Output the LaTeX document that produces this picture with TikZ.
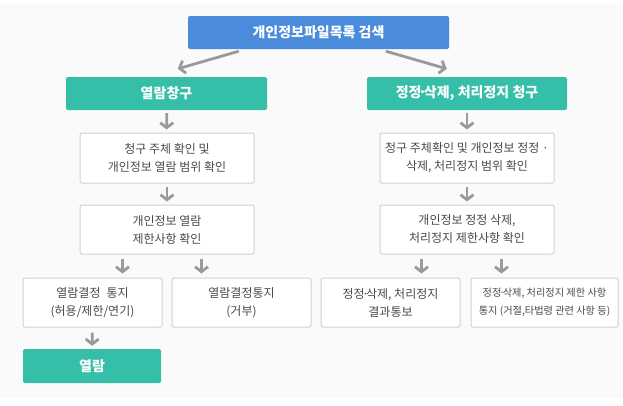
\documentclass[tikz,border=0pt]{standalone}
\usepackage{fontspec}
\setmainfont{Noto Sans CJK KR}
\usepackage{tikz}
\usetikzlibrary{calc,arrows.meta,positioning}
\definecolor{searchblue}{HTML}{4A8BDB}
\definecolor{reqgreen}{HTML}{35BFA8}
\definecolor{arrgray}{HTML}{9A9A9A}
\definecolor{boxline}{HTML}{D2D2D2}
\definecolor{txtgray}{HTML}{4A4A4A}
\definecolor{panel}{HTML}{FAFAFA}
\newcommand{\mdot}{\kern-0.22em·\kern-0.22em}
\tikzset{
  headbox/.style = {rounded corners=2pt, text=white, font=\fontsize{14}{16}\selectfont\bfseries, inner sep=0pt},
  infobox/.style = {draw=boxline, line width=1pt, fill=white, rounded corners=2pt, text=txtgray, align=center,
                    font=\fontsize{12}{18}\selectfont, inner sep=0pt},
  arr/.style = {draw=arrgray, line width=2.8pt, -{Straight Barb[length=5pt,width=13pt]}}
}

\begin{document}
\begin{tikzpicture}[x=1pt,y=1pt]
    \useasboundingbox (0,0) rectangle (623,-405);
    \fill[panel] (0,-4) rectangle (623,-398);
    % top
    \node[headbox, fill=searchblue, minimum width=261, minimum height=33] (search) at (318.5,-32.5) {개인정보파일목록 검색};
    \node[headbox, fill=reqgreen, minimum width=201, minimum height=33] (reqL) at (166.5,-93.5) {열람창구};
    \node[headbox, fill=reqgreen, minimum width=200, minimum height=33] (reqR) at (467,-93.5) {정정\mdot 삭제, 처리정지 청구};
    % left column
    \node[infobox, minimum width=174, minimum height=50] (chkL1) at (167,-158) {청구 주체 확인 및\\개인정보 열람 범위 확인};
    \node[infobox, minimum width=174, minimum height=49] (chkL2) at (167,-229.5) {개인정보 열람\\제한사항 확인};
    \node[infobox, minimum width=139, minimum height=49] (resA) at (92.5,-302.5) {열람결정\enspace 통지\\(허용/제한/연기)};
    \node[infobox, minimum width=139, minimum height=49] (resB) at (241.5,-302.5) {열람결정통지\\(거부)};
    \node[headbox, fill=reqgreen, minimum width=138, minimum height=34] (view) at (92,-366) {열람};
    % right column
    \node[infobox, minimum width=174, minimum height=50] (chkR1) at (467,-158) {청구 주체확인 및 개인정보 정정 ·\\삭제, 처리정지 범위 확인};
    \node[infobox, minimum width=174, minimum height=49] (chkR2) at (467,-229.5) {개인정보 정정 삭제,\\처리정지 제한사항 확인};
    \node[infobox, minimum width=139, minimum height=49] (resC) at (390.5,-302.5) {정정\mdot 삭제, 처리정지\\결과통보};
    \node[infobox, minimum width=147, minimum height=49, font=\fontsize{10.2}{18}\selectfont] (resD) at (544.5,-302.5) {정정\mdot 삭제, 처리정지 제한 사항\\통지 (거절,타법령 관련 사항 등)};
    % connectors
    \draw[arr] ($(search.south west)+(51,-2)$) -- ($(reqL.north west)+(112,8)$);
    \draw[arr] ($(search.south west)+(198,-2)$) -- ($(reqR.north west)+(80,8)$);
    \draw[arr, shorten <=3pt, shorten >=3pt] (reqL) -- (chkL1);
    \draw[arr, shorten <=3pt, shorten >=3pt] (chkL1) -- (chkL2);
    \draw[arr, shorten <=3pt, shorten >=3pt] (reqR) -- (chkR1);
    \draw[arr, shorten <=3pt, shorten >=3pt] (chkR1) -- (chkR2);
    \draw[arr] ($(chkL2.south west)+(43,-4)$) -- ($(chkL2.south west)+(43,-19)$);
    \draw[arr] ($(chkL2.south west)+(122,-4)$) -- ($(chkL2.south west)+(122,-19)$);
    \draw[arr] ($(chkR2.south west)+(42,-4)$) -- ($(chkR2.south west)+(42,-19)$);
    \draw[arr] ($(chkR2.south west)+(122,-4)$) -- ($(chkR2.south west)+(122,-19)$);
    \draw[arr, shorten <=5pt, shorten >=3pt] (resA) -- (view);
  \end{tikzpicture}
\end{document}
